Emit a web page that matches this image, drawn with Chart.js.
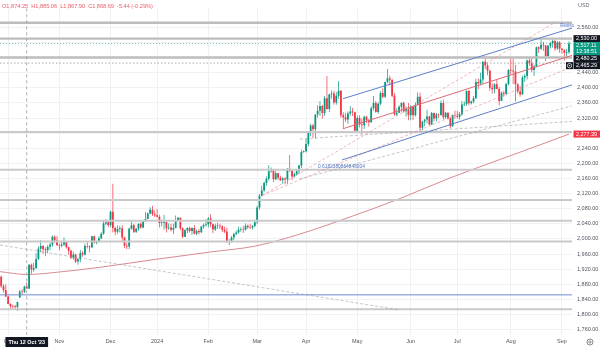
<!DOCTYPE html>
<html lang="en">
<head>
<meta charset="UTF-8">
<title>XAU/USD daily</title>
<script src="https://cdn.jsdelivr.net/npm/chart.js@4.4.1/dist/chart.umd.min.js"></script>
<style>
  body { margin: 0; background: #fff; }
  #box { width: 600px; height: 350px; }
</style>
</head>
<body>
<div id="box"><canvas id="myChart" width="600" height="350"></canvas></div>
<script>
// XAU/USD daily candles, one entry per trading day, 27 Sep 2023 -> 5 Sep 2024
const opens = [
  1900, 1875, 1864,
  1848, 1828, 1822, 1821, 1820, 1845, 1861, 1860, 1874.25, 1869, 1932, 1919, 1923, 1947, 1974, 1981, 1973, 1970, 1979, 1985, 2006, 1996,
  1983, 1982, 1985, 1992, 1978, 1969, 1950, 1959, 1940, 1946, 1963, 1959, 1981, 1980, 1978, 2007, 1990, 1992, 2002, 2014, 2041, 2044,
  2036, 2072, 2029, 2019, 2026, 2028, 2004, 1982, 1980, 2027, 2036, 2019, 2027, 2040, 2030, 2046, 2053, 2067, 2077, 2065,
  2063, 2059, 2042, 2043, 2045, 2028, 2030, 2024, 2029, 2049, 2056, 2028, 2006, 2023, 2029, 2021, 2029, 2014, 2021, 2018, 2033, 2037,
  2039, 2054, 2039, 2025, 2035, 2034, 2033, 2024, 2020, 1992, 1993, 2004, 2013, 2017, 2024, 2025, 2024, 2035, 2031, 2030, 2034,
  2044, 2083, 2114, 2128, 2148, 2159, 2179, 2182, 2158, 2174, 2162, 2155, 2160, 2157, 2186, 2181, 2165, 2172, 2179, 2194, 2230,
  2232, 2251, 2280, 2300, 2290, 2329, 2339, 2352, 2333, 2372, 2344, 2383, 2385, 2361, 2379, 2392, 2327, 2322, 2316, 2332, 2337, 2335,
  2286, 2320, 2303, 2301, 2323, 2314, 2309, 2346, 2360, 2336, 2358, 2386, 2376, 2415, 2425, 2421, 2379, 2329, 2334, 2350, 2360, 2338, 2343,
  2327, 2350, 2327, 2355, 2376, 2294, 2311, 2316, 2324, 2303, 2333, 2319, 2329, 2328, 2360, 2322, 2334, 2319, 2298, 2327,
  2326, 2323, 2330, 2356, 2357, 2392, 2359, 2364, 2372, 2415, 2411, 2422, 2469, 2459, 2445, 2400, 2396, 2409, 2397, 2365, 2387, 2384, 2410,
  2447, 2446, 2443, 2409, 2390, 2382, 2427, 2431, 2472, 2465, 2447, 2456, 2507, 2503, 2514, 2512, 2484, 2511, 2518, 2524, 2504, 2520,
  2503, 2500, 2493, 2494
];
const highs = [
  1903, 1880, 1880,
  1850, 1830, 1826, 1825, 1834, 1865, 1867, 1876, 1885.06, 1933, 1935, 1937, 1962, 1980, 1997, 1984, 1978, 1983, 1990, 2009, 2009, 2007,
  1987, 1993, 2004, 1994, 1980, 1972, 1966, 1961, 1950, 1971, 1968, 1988, 1993, 1983, 2008, 2009, 1996, 2007, 2018, 2048, 2052, 2049,
  2075, 2146, 2032, 2036, 2035, 2036, 2006, 1990, 2030, 2048, 2040, 2029, 2041, 2044, 2049, 2071, 2070, 2084, 2088, 2075,
  2079, 2064, 2051, 2064, 2046, 2041, 2040, 2040, 2062, 2058, 2057, 2031, 2026, 2031, 2033, 2031, 2037, 2024, 2026, 2035, 2041, 2052,
  2058, 2065, 2041, 2040, 2043, 2040, 2036, 2032, 2030, 1999, 2008, 2016, 2022, 2032, 2031, 2035, 2041, 2038, 2040, 2037, 2051,
  2088, 2119, 2141, 2152, 2165, 2195, 2189, 2185, 2180, 2175, 2167, 2164, 2163, 2187, 2222, 2182, 2176, 2183, 2196, 2236, 2234,
  2266, 2281, 2305, 2305, 2330, 2354, 2365, 2355, 2378, 2431, 2384, 2393, 2392, 2389, 2418, 2394, 2335, 2334, 2337, 2352, 2347, 2336,
  2326, 2327, 2319, 2326, 2326, 2318, 2351, 2378, 2365, 2362, 2391, 2399, 2416, 2450, 2432, 2422, 2386, 2346, 2354, 2362, 2364, 2351, 2360,
  2354, 2352, 2361, 2388, 2387, 2313, 2317, 2342, 2326, 2336, 2334, 2333, 2332, 2366, 2369, 2336, 2335, 2322, 2330, 2339,
  2339, 2335, 2365, 2364, 2392, 2393, 2366, 2378, 2424, 2425, 2440, 2470, 2483, 2465, 2448, 2412, 2412, 2422, 2402, 2390, 2392, 2413, 2450,
  2477, 2477, 2461, 2412, 2404, 2432, 2437, 2475, 2478, 2480, 2461, 2509, 2510, 2531, 2522, 2513, 2513, 2521, 2528, 2528, 2524, 2524,
  2505, 2502, 2503, 2523
];
const lows = [
  1871, 1858, 1846,
  1827, 1815, 1816, 1813, 1810, 1844, 1852, 1857, 1867.90, 1867, 1908, 1913, 1920, 1944, 1965, 1960, 1954, 1962, 1970, 1979, 1990, 1982,
  1970, 1978, 1981, 1975, 1958, 1947, 1945, 1936, 1932, 1938, 1953, 1956, 1975, 1965, 1976, 1988, 1986, 1990, 2000, 2011, 2036, 2031,
  2031, 2017, 2010, 2014, 2017, 1995, 1976, 1973, 1973, 2025, 2016, 2016, 2021, 2027, 2028, 2046, 2052, 2065, 2061, 2058,
  2057, 2030, 2033, 2024, 2017, 2024, 2020, 2013, 2028, 2047, 2023, 2002, 2005, 2015, 2017, 2011, 2012, 2010, 2012, 2016, 2027, 2032,
  2030, 2031, 2015, 2021, 2026, 2026, 2018, 2016, 1990, 1984, 1990, 1997, 2010, 2014, 2019, 2016, 2022, 2026, 2027, 2025, 2030,
  2039, 2078, 2113, 2125, 2141, 2154, 2175, 2150, 2156, 2155, 2153, 2146, 2145, 2146, 2177, 2156, 2163, 2168, 2172, 2188, 2228,
  2229, 2245, 2272, 2268, 2266, 2321, 2325, 2319, 2326, 2342, 2336, 2371, 2355, 2355, 2371, 2321, 2292, 2310, 2305, 2326, 2325, 2285,
  2281, 2295, 2277, 2291, 2307, 2297, 2307, 2340, 2334, 2331, 2354, 2372, 2373, 2412, 2407, 2375, 2326, 2326, 2333, 2335, 2334, 2323, 2314,
  2314, 2315, 2324, 2354, 2286, 2288, 2298, 2306, 2301, 2302, 2311, 2311, 2321, 2326, 2316, 2319, 2316, 2293, 2297, 2318,
  2319, 2316, 2326, 2352, 2352, 2353, 2356, 2359, 2370, 2396, 2407, 2411, 2450, 2433, 2392, 2384, 2385, 2396, 2353, 2365, 2376, 2380, 2406,
  2436, 2410, 2364, 2385, 2376, 2382, 2415, 2422, 2458, 2441, 2431, 2454, 2492, 2500, 2498, 2470, 2479, 2504, 2506, 2497, 2500, 2493,
  2490, 2472, 2476, 2490
];
const closes = [
  1875, 1864, 1848,
  1828, 1822, 1821, 1820, 1833, 1861, 1860, 1874.13, 1868.69, 1932, 1919, 1923, 1947, 1974, 1981, 1973, 1970, 1979, 1985, 2006, 1996, 1983,
  1982, 1985, 1992, 1978, 1969, 1950, 1959, 1940, 1946, 1963, 1959, 1981, 1980, 1978, 2007, 1990, 1992, 2002, 2014, 2041, 2044, 2036,
  2072, 2029, 2019, 2026, 2028, 2004, 1982, 1980, 2027, 2036, 2019, 2027, 2040, 2030, 2046, 2053, 2067, 2077, 2065, 2063,
  2059, 2042, 2043, 2045, 2028, 2030, 2024, 2029, 2049, 2056, 2028, 2006, 2023, 2029, 2021, 2029, 2014, 2021, 2018, 2033, 2037, 2039,
  2054, 2039, 2025, 2035, 2034, 2033, 2024, 2020, 1992, 1993, 2004, 2013, 2017, 2024, 2025, 2024, 2035, 2031, 2030, 2034, 2044,
  2083, 2114, 2128, 2148, 2159, 2179, 2182, 2158, 2174, 2162, 2155, 2160, 2157, 2186, 2181, 2165, 2172, 2179, 2194, 2230, 2232,
  2251, 2280, 2300, 2290, 2329, 2339, 2352, 2333, 2372, 2344, 2383, 2385, 2361, 2379, 2392, 2327, 2322, 2316, 2332, 2337, 2335, 2286,
  2320, 2303, 2301, 2323, 2314, 2309, 2346, 2360, 2336, 2358, 2386, 2376, 2415, 2425, 2421, 2379, 2329, 2334, 2350, 2360, 2338, 2343, 2327,
  2350, 2327, 2355, 2376, 2294, 2311, 2316, 2324, 2303, 2333, 2319, 2329, 2328, 2360, 2322, 2334, 2319, 2298, 2327, 2326,
  2323, 2330, 2356, 2357, 2392, 2359, 2364, 2372, 2415, 2411, 2422, 2469, 2459, 2445, 2400, 2396, 2409, 2397, 2365, 2387, 2384, 2410, 2447,
  2446, 2443, 2409, 2390, 2382, 2427, 2431, 2472, 2465, 2447, 2456, 2507, 2503, 2514, 2512, 2484, 2511, 2518, 2524, 2504, 2520, 2503,
  2500, 2493, 2494, 2517.11
];

// first trading day of each month (bar index) and its axis label
const monthTicks = [3, 25, 47, 67, 89, 110, 131, 153, 176, 196, 219, 241];
const monthLabels = ['Oct', 'Nov', 'Dec', '2024', 'Feb', 'Mar', 'Apr', 'May', 'Jun', 'Jul', 'Aug', 'Sep'];
const priceTicks = [1760, 1800, 1840, 1880, 1920, 1960, 2000, 2040, 2080, 2120, 2160, 2200,
                    2240, 2280, 2320, 2360, 2400, 2440, 2480, 2520, 2560];

// drawings, points are [bar, price]
const greyLevels = [2572, 2530, 2480.25, 2283, 2183, 2103, 2048, 1993, 1814];
const blueLevel = 1852;
const channelUpper = [[146.9, 2371], [245.3, 2558]];
const channelMid = [[146.9, 2291.6], [245.3, 2485.7]];
const channelLower = [[146.5, 2209], [245.3, 2407.7]];
const fanRays = [
  [[112.1, 2114.8], [238.4, 2574.2]],
  [[112.1, 2114.8], [245.3, 2455.5]]
];
const greyDashed = [
  [[128.4, 2158.7], [245.3, 2352.2]],
  [[128.4, 2264.5], [245.3, 2311]],
  [[-0.5, 1984], [171.4, 1811.9]]
];
const ma200 = [
  [-0.5, 1913.5], [11.1, 1905.8], [21, 1910], [42.5, 1925], [64, 1944], [90.6, 1966],
  [109.1, 1981], [128.4, 2013], [149.9, 2058], [171.4, 2107], [192.9, 2161.3],
  [214.4, 2210.3], [231.6, 2249], [244, 2277.39]
];

const crossBar = 11;            // 12 Oct 2023
const crossPrice = 2465.29;
const fibText = '0.6182380864848004';

const FONT = "'Liberation Sans', Arial, sans-serif";
const UP = '#089981', DOWN = '#f23645';
const X_MIN = -0.5, X_MAX = 245.3;
const Y_MIN = 1745.8, Y_MAX = 2610.3;

const fmt = v => v.toLocaleString('en-US', { minimumFractionDigits: 2, maximumFractionDigits: 2 });
const candleColors = closes.map((c, i) => c >= opens[i] ? UP : DOWN);

function segment(points, color, width, dash) {
  return {
    type: 'line',
    data: points.map(p => ({ x: p[0], y: p[1] })),
    borderColor: color,
    borderWidth: width,
    borderDash: dash || [],
    pointRadius: 0,
    fill: false,
    tension: 0
  };
}

const datasets = [];
// drawings sit above the candles (first dataset is painted last)
datasets.push(segment(channelUpper, '#5d7fc7', 1));
datasets.push(segment(channelMid, '#e06a74', 1));
datasets.push(segment(channelLower, '#5d7fc7', 1));
fanRays.forEach(r => datasets.push(segment(r, 'rgba(226,128,136,0.7)', 0.8, [3, 2])));
greyDashed.forEach(r => datasets.push(segment(r, 'rgba(150,150,160,0.7)', 0.8, [3, 2])));
greyLevels.forEach((p, i) => datasets.push(segment([[X_MIN, p], [X_MAX, p]], i < 3 ? '#bcbcbc' : '#c9c9c9', i < 3 ? 2.4 : 2)));
datasets.push(segment([[X_MIN, blueLevel], [X_MAX, blueLevel]], '#6d8cd0', 1));

datasets.push({
  type: 'bar',
  data: opens.map((o, i) => ({ x: i, y: [o, closes[i]] })),
  backgroundColor: candleColors,
  barThickness: 1.8,
  minBarLength: 0.6,
  inflateAmount: 0,
  grouped: false,
  borderWidth: 0
});
datasets.push({
  type: 'bar',
  data: lows.map((l, i) => ({ x: i, y: [l, highs[i]] })),
  backgroundColor: candleColors,
  barThickness: 0.7,
  inflateAmount: 0,
  grouped: false,
  borderWidth: 0
});
const maLine = segment(ma200, '#d98a90', 1);
maLine.cubicInterpolationMode = 'monotone';
datasets.push(maLine);

function box(ctx, left, top, w, h, bg) {
  ctx.fillStyle = bg;
  ctx.fillRect(left, top, w, h);
}

const overlay = {
  id: 'overlay',
  afterDatasetsDraw(chart) {
    const { ctx, chartArea: a, scales: { x, y } } = chart;
    ctx.save();
    ctx.beginPath();
    ctx.rect(a.left, a.top, a.right - a.left + 2, a.bottom - a.top);
    ctx.clip();

    // live price line
    ctx.strokeStyle = 'rgba(8,153,129,0.55)';
    ctx.lineWidth = 1;
    ctx.setLineDash([1, 2]);
    const yLast = y.getPixelForValue(closes[closes.length - 1]);
    ctx.beginPath(); ctx.moveTo(a.left, yLast); ctx.lineTo(a.right, yLast); ctx.stroke();

    // crosshair
    ctx.strokeStyle = '#9598a1';
    ctx.lineWidth = 0.8;
    ctx.setLineDash([3, 3]);
    const cx = x.getPixelForValue(crossBar);
    ctx.beginPath(); ctx.moveTo(cx, a.top); ctx.lineTo(cx, a.bottom); ctx.stroke();
    ctx.setLineDash([1.5, 2]);
    const cy = y.getPixelForValue(crossPrice);
    ctx.beginPath(); ctx.moveTo(a.left, cy); ctx.lineTo(a.right, cy); ctx.stroke();
    ctx.setLineDash([]);

    // drawing captions
    ctx.fillStyle = '#4f73c2';
    ctx.textBaseline = 'middle';
    ctx.textAlign = 'left';
    ctx.font = `4.8px ${FONT}`;
    ctx.fillText(fibText, x.getPixelForValue(136.2), y.getPixelForValue(2190.6));
    ctx.font = `4.6px ${FONT}`;
    ctx.fillText('Resistance', x.getPixelForValue(240.2), y.getPixelForValue(2565));
    ctx.restore();
  },
  afterDraw(chart) {
    const { ctx, chartArea: a, scales: { x, y } } = chart;
    ctx.save();
    ctx.textBaseline = 'middle';
    ctx.textAlign = 'left';

    // OHLC legend of the hovered bar
    const i = crossBar;
    const chg = closes[i] - closes[i - 1];
    const pct = chg / closes[i - 1] * 100;
    ctx.font = `5.6px ${FONT}`;
    ctx.fillStyle = '#ef5a66';
    ctx.fillText(`O${fmt(opens[i])}  H${fmt(highs[i])}  L${fmt(lows[i])}  C${fmt(closes[i])}  ${chg.toFixed(2)} (${pct.toFixed(2)}%)`, 2, 6.5);

    ctx.fillStyle = '#6a6d78';
    ctx.font = `5.4px ${FONT}`;
    ctx.fillText('USD', 578, 6);

    // price tags, stacked so they don't overlap
    const tags = [
      { v: greyLevels[1], bg: '#131722' },
      { v: closes[closes.length - 1], bg: UP, sub: '13:38:51' },
      { v: greyLevels[2], bg: '#131722' },
      { v: crossPrice, bg: '#131722', icon: true },
      { v: ma200[ma200.length - 1][1], bg: DOWN }
    ];
    let prevBottom = -1;
    const left = a.right + 1.5;
    ctx.font = `5.4px ${FONT}`;
    tags.forEach(t => {
      const py = y.getPixelForValue(t.v);
      const h = t.sub ? 13 : 7;
      const top = Math.max(py - 3.5, prevBottom);
      box(ctx, left, top, 600 - left, h, t.bg);
      ctx.fillStyle = '#fff';
      ctx.fillText(fmt(t.v), left + 2.5, top + 3.6);
      if (t.sub) ctx.fillText(t.sub, left + 2.5, top + 9.8);
      if (t.icon) {
        box(ctx, left - 7.5, top, 7, h, '#131722');
        ctx.strokeStyle = '#fff';
        ctx.lineWidth = 0.7;
        ctx.beginPath(); ctx.arc(left - 4, top + 3.5, 2.2, 0, Math.PI * 2); ctx.stroke();
        ctx.fillStyle = '#fff';
        ctx.beginPath(); ctx.arc(left - 4, top + 3.5, 0.7, 0, Math.PI * 2); ctx.fill();
      }
      prevBottom = top + h;
    });

    // date under the crosshair
    const dateText = "Thu 12 Oct '23";
    ctx.font = `bold 5.4px ${FONT}`;
    const w = ctx.measureText(dateText).width + 6;
    const cx = x.getPixelForValue(crossBar);
    box(ctx, cx - w / 2, a.bottom + 2, w, 10, '#131722');
    ctx.fillStyle = '#fff';
    ctx.textAlign = 'center';
    ctx.fillText(dateText, cx, a.bottom + 7.2);

    // settings icon in the corner
    ctx.strokeStyle = '#6a6d78';
    ctx.lineWidth = 0.8;
    ctx.beginPath(); ctx.arc(590, 342, 3, 0, Math.PI * 2); ctx.stroke();
    ctx.beginPath(); ctx.arc(590, 342, 1.1, 0, Math.PI * 2); ctx.stroke();
    ctx.restore();
  }
};

const chart = new Chart(document.getElementById('myChart'), {
  type: 'bar',
  data: { datasets },
  options: {
    responsive: false,
    animation: false,
    devicePixelRatio: 1,
    events: [],
    layout: { padding: 0 },
    plugins: { legend: { display: false }, tooltip: { enabled: false } },
    scales: {
      x: {
        type: 'linear',
        min: X_MIN,
        max: X_MAX,
        offset: false,
        grid: { color: '#eef0f4', lineWidth: 1, drawTicks: false, offset: false },
        border: { display: false },
        afterBuildTicks: s => { s.ticks = monthTicks.map(v => ({ value: v })); },
        afterFit: s => { s.height = 15; },
        ticks: {
          autoSkip: false,
          maxRotation: 0,
          padding: 3.5,
          color: '#51545e',
          font: { family: FONT, size: 5.5 },
          callback: v => monthLabels[monthTicks.indexOf(v)]
        }
      },
      y: {
        position: 'right',
        min: Y_MIN,
        max: Y_MAX,
        grid: { color: '#f1f2f5', lineWidth: 1, drawTicks: false },
        border: { display: false },
        afterBuildTicks: s => { s.ticks = priceTicks.map(v => ({ value: v })); },
        afterFit: s => { s.width = 28; },
        ticks: {
          autoSkip: false,
          padding: 5,
          color: '#51545e',
          font: { family: FONT, size: 5.5 },
          callback: v => fmt(v)
        }
      }
    }
  },
  plugins: [overlay]
});
</script>
</body>
</html>
